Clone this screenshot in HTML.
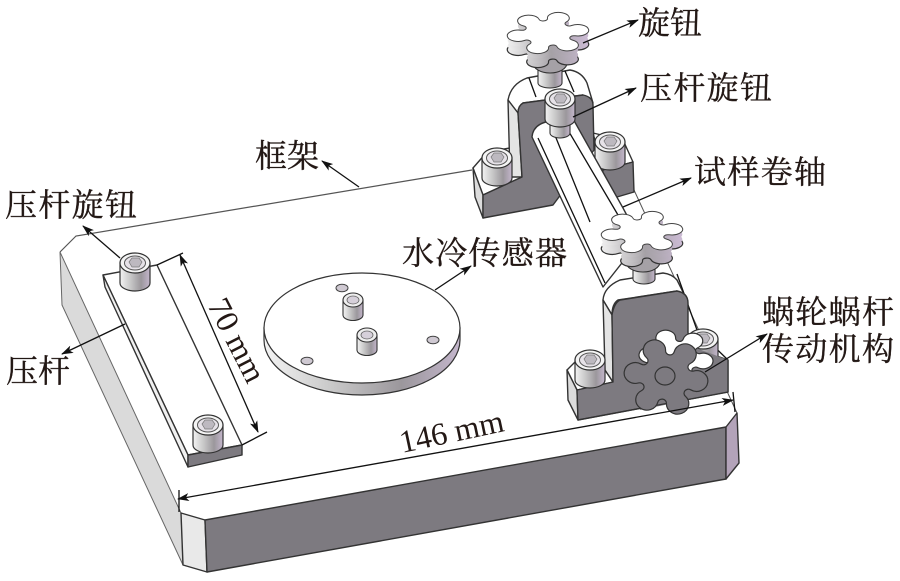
<!DOCTYPE html>
<html lang="zh"><head><meta charset="utf-8"><style>
html,body{margin:0;padding:0;background:#fff}
svg{display:block;filter:blur(.35px)}
.t{font-family:"Liberation Serif","Noto Serif CJK SC",serif;font-size:32px;fill:#231815;stroke:#231815;stroke-width:.35}
.n{font-family:"Liberation Serif",serif;font-size:32px;fill:#231815}
.e{stroke:#333;stroke-width:1.4;stroke-linejoin:round}
.l{stroke:#111;stroke-width:1.3;fill:none}
</style></head><body>
<svg width="900" height="581" viewBox="0 0 900 581" xmlns="http://www.w3.org/2000/svg">
<defs>
<linearGradient id="cy" x1="0" x2="1" y1="0" y2="0"><stop offset="0" stop-color="#f3f3f3"/><stop offset=".35" stop-color="#c8c8c8"/><stop offset=".7" stop-color="#9b979c"/><stop offset="1" stop-color="#c4b6cc"/></linearGradient>
<linearGradient id="dk" gradientUnits="userSpaceOnUse" x1="-1" x2="1" y1="0" y2="0"><stop offset="0" stop-color="#f0f0f0"/><stop offset=".5" stop-color="#a5a1a6"/><stop offset="1" stop-color="#cdbcd6"/></linearGradient>
<marker id="a" viewBox="0 0 12 8" refX="11" refY="4" markerWidth="12" markerHeight="8" markerUnits="userSpaceOnUse" orient="auto-start-reverse"><path d="M0 0L12 4L0 8L3 4z" fill="#111"/></marker>
<path id="s" vector-effect="non-scaling-stroke" d="M.6134 -.2371A.26 .26 0 1 1 .6134 .2371A.102 .102 0 0 0 .512 .4127A.26 .26 0 1 1 .1014 .6498A.102 .102 0 0 0 -.1014 .6498A.26 .26 0 1 1 -.512 .4127A.102 .102 0 0 0 -.6134 .2371A.26 .26 0 1 1 -.6134 -.2371A.102 .102 0 0 0 -.512 -.4127A.26 .26 0 1 1 -.1014 -.6498A.102 .102 0 0 0 .1014 -.6498A.26 .26 0 1 1 .512 -.4127A.102 .102 0 0 0 .6134 -.2371z"/>
<g id="screw">
<path d="M-15 0V20A15 8 0 0 0 15 20V0z" fill="url(#cy)" stroke="#333" stroke-width="1.2"/>
<ellipse rx="15" ry="10" fill="#f4f4f4" stroke="#333" stroke-width="1.2"/>
<ellipse rx="10.5" ry="7" fill="#e6e2e8" stroke="#555" stroke-width="1"/>
<path d="M-6 -1L-3 -5H4L7 -1L4 4H-3z" fill="#bdb9c0" stroke="#777" stroke-width=".7"/>
</g>
<g id="post">
<path d="M-10 0V15A10 5.5 0 0 0 10 15V0z" fill="url(#cy)" stroke="#333" stroke-width="1.1"/>
<ellipse rx="10" ry="7" fill="#eee" stroke="#333" stroke-width="1.1"/>
<ellipse rx="6" ry="4" fill="#d6d0da" stroke="#666" stroke-width=".8"/>
</g>
<g id="knob">
<use href="#s" transform="translate(0,14) scale(42,22) rotate(-10)" fill="url(#dk)" stroke="#333" stroke-width="1.2"/>
<use href="#s" transform="translate(0,10) scale(41.6,21.6) rotate(-10)" fill="url(#dk)"/>
<use href="#s" transform="translate(0,5) scale(41.6,21.6) rotate(-10)" fill="url(#dk)"/>
<use href="#s" transform="scale(42,22) rotate(-10)" fill="#fff" stroke="#444" stroke-width="1"/>
</g>
</defs>

<!-- base plate -->
<polygon points="60,252 76,236 472,170 634,190 737,413 726,427 205,520 181,513" fill="#fff"/>
<path d="M60,252L76,236L472,170" fill="none" stroke="#555" stroke-width="1.2"/>
<path d="M634,190L737,413" fill="none" stroke="#555" stroke-width="1"/>
<path d="M60,252L62,305L183,565L181,513Z" fill="#dadada" stroke="#666" stroke-width="1"/>
<polygon points="181,513 205,520 207,572 183,565" fill="#e9e9e9" class="e"/>
<polygon points="205,520 726,427 726,479 207,572" fill="#7d7a80" class="e"/>
<polygon points="726,427 737,413 739,463 726,479" fill="#b3a3b9" class="e"/>

<!-- press bar -->
<polygon points="103,275 157,265 242,445 188,455" fill="#fff" class="e"/>
<polygon points="103,275 105,287 188,467 188,455" fill="#f0f0f0" class="e"/>
<polygon points="188,455 242,445 242,455 188,467" fill="#7d7a80" class="e"/>
<use href="#screw" x="135" y="263"/>
<use href="#screw" x="208" y="425"/>

<!-- sensor disc -->
<path d="M264,328V340A98,55 0 0 0 460,340V328z" fill="url(#cy)" stroke="#333" stroke-width="1.2"/>
<ellipse cx="362" cy="328" rx="98" ry="55" fill="#fff" stroke="#333" stroke-width="1.2"/>
<g fill="#cfc9d2" stroke="#444" stroke-width="1">
<ellipse cx="342" cy="288" rx="6" ry="3.8"/><ellipse cx="433" cy="340" rx="6" ry="3.8"/><ellipse cx="307" cy="361" rx="6" ry="3.8"/>
</g>
<use href="#post" x="353" y="300"/>
<use href="#post" x="367" y="335"/>

<!-- top bracket -->
<polygon points="473,168 487,152 510,148 522,177 483,195" fill="#fff" class="e"/>
<polygon points="473,168 475,197 483,218 483,195" fill="#dcdcdc" class="e"/>
<polygon points="593,133 623,140 633,162 603,170" fill="#fff" class="e"/>
<polygon points="603,170 633,162 634,192 617,197 600,195" fill="#7d7a80" class="e"/>
<path d="M508,100Q511,84 527,78L570,70Q582,72 587,83L593,103L583,95L523,103Q518,106 518,113Z" fill="#fff" class="e"/>
<path d="M508,100L510,177L522,177L518,113Z" fill="#e4e4e4" class="e"/>
<path d="M529,78L536,97M565,71L574,92" class="l" stroke-width=".9"/>
<path d="M483,195L522,177L518,113Q518,106 523,103L583,95Q593,97 593,105L594,150L553,205L483,218Z" fill="#7d7a80" class="e"/>
<use href="#screw" x="497" y="158"/>
<use href="#screw" x="610" y="142"/>

<!-- shaft -->
<path d="M532,137Q533,124 550,121L572,117L623,208L640,240L603,287Z" fill="#fff" class="e"/>
<path d="M538,138L605,283M550,123L590,222M562,120L618,215" class="l" stroke-width="1.1"/>
<!-- press screw -->
<path d="M-10 0V30A10 5 0 0 0 10 30V0z" transform="translate(560,103)" fill="url(#cy)" stroke="#333" stroke-width="1.1"/>
<use href="#screw" x="560" y="99"/>

<!-- top knob stem + knob -->
<path d="M538,62V83A12,5 0 0 0 562,83V62z" fill="url(#cy)" stroke="#333" stroke-width="1.1"/>
<ellipse cx="550" cy="63" rx="17" ry="10" fill="#a5a1a6" stroke="#333" stroke-width="1.1"/>
<use href="#knob" x="548" y="33"/>

<!-- bottom bracket -->
<polygon points="567,370 577,360 605,370 613,382 577,390" fill="#fff" class="e"/>
<polygon points="567,370 568,400 578,420 577,390" fill="#dcdcdc" class="e"/>
<path d="M603,300Q604,287 620,280L663,273Q672,274 677,280L687,300L677,291L618,300Q612,304 612,315Z" fill="#fff" class="e"/>
<path d="M677,274L697,330L728,360" class="l" stroke="#666" stroke-width=".9"/>
<path d="M603,300L605,370L613,382L612,315Z" fill="#e4e4e4" class="e"/>
<path d="M578,420L577,390L613,382L612,315Q614,303 620,300L677,291Q688,293 688,303L688,333L700,350L728,360L728,392Z" fill="#7d7a80" class="e"/>
<use href="#screw" x="590" y="360"/>
<use href="#screw" x="703" y="339"/>
<path d="M688,345L728,360V392L640,410V380Z" fill="#7d7a80"/>
<path d="M728,360V392L578,420" fill="none" stroke="#333" stroke-width="1.3"/>

<!-- worm gear -->
<use href="#s" transform="translate(676,358) scale(38,30) rotate(8)" fill="#fff" stroke="#333" stroke-width="1.2"/>
<use href="#s" transform="translate(666,377) scale(43,40) rotate(8)" fill="#7d7a80" stroke="#333" stroke-width="1.2"/>
<ellipse cx="665" cy="376" rx="10" ry="9" fill="none" stroke="#333" stroke-width="1.2"/>

<!-- lower knob -->
<path d="M633,257V279A11,5 0 0 0 655,279V257z" fill="url(#cy)" stroke="#333" stroke-width="1.1"/>
<ellipse cx="643" cy="262" rx="17" ry="10" fill="#a5a1a6" stroke="#333" stroke-width="1.1"/>
<use href="#knob" x="642" y="232"/>

<!-- leaders -->
<line x1="583" y1="43" x2="638" y2="20" class="l" marker-end="url(#a)"/>
<line x1="573" y1="117" x2="636" y2="88" class="l" marker-end="url(#a)"/>
<line x1="623" y1="207" x2="691" y2="178" class="l" marker-end="url(#a)"/>
<line x1="359" y1="187" x2="322" y2="161" class="l" marker-end="url(#a)"/>
<line x1="120" y1="258" x2="83" y2="226" class="l" marker-end="url(#a)"/>
<line x1="125" y1="324" x2="62" y2="354" class="l" marker-end="url(#a)"/>
<line x1="435" y1="290" x2="471" y2="266" class="l" marker-end="url(#a)"/>
<line x1="705" y1="372" x2="767" y2="334" class="l" marker-end="url(#a)"/>
<!-- dimensions -->
<line x1="178" y1="499" x2="733" y2="400" class="l" marker-start="url(#a)" marker-end="url(#a)"/>
<path d="M179,490V512M733,392L735,412" class="l"/>
<line x1="180" y1="255" x2="258" y2="432" class="l" marker-start="url(#a)" marker-end="url(#a)"/>
<path d="M157,265L183,253M242,445L267,432" class="l"/>

<!-- labels -->
<text class="n" transform="translate(402,453) rotate(-12)">146 mm</text>
<text class="n" transform="translate(207,305) rotate(63)">70 mm</text>
<text class="t" x="638" y="34">旋钮</text>
<text class="t" x="640" y="99" textLength="132">压杆旋钮</text>
<text class="t" x="694" y="183" textLength="132">试样卷轴</text>
<text class="t" x="255" y="167">框架</text>
<text class="t" x="5" y="216" textLength="132">压杆旋钮</text>
<text class="t" x="402" y="264" textLength="165">水冷传感器</text>
<text class="t" x="6" y="382">压杆</text>
<text class="t" x="762" y="323" textLength="132">蜗轮蜗杆</text>
<text class="t" x="762" y="360" textLength="132">传动机构</text>
</svg>
</body></html>
